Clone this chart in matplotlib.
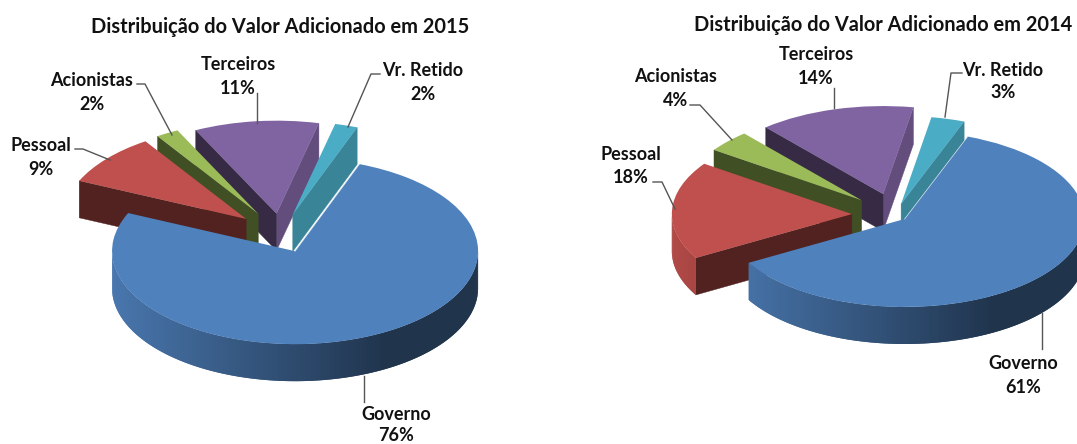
import numpy as np
import matplotlib
matplotlib.use("Agg")
import matplotlib.pyplot as plt
from matplotlib.colors import to_rgb
from matplotlib.transforms import Affine2D

W, H = 1077, 444
FONT = "Lato"

categories = ["Governo", "Pessoal", "Acionistas", "Terceiros", "Vr. Retido"]
values_2015 = [76, 9, 2, 11, 2]
values_2014 = [61, 18, 4, 14, 3]
title_2015 = "Distribuição do Valor Adicionado em 2015"
title_2014 = "Distribuição do Valor Adicionado em 2014"
colors = ["#4F81BD", "#C0504D", "#9BBB59", "#8064A2", "#4BACC6"]

fig = plt.figure(figsize=(W / 100, H / 100), dpi=100, facecolor="white")
px = Affine2D().scale(1 / W, -1 / H).translate(0, 1) + fig.transFigure


def shade(c, f):
    return tuple(np.array(to_rgb(c)) * f)


def wall_factor(angle_deg):
    """Brightness of the outer wall, from the angle around the pie."""
    return np.interp(np.cos(np.radians(angle_deg)), [-1, 0, 0.5, 1], [0.92, 0.58, 0.40, 0.40])


def draw_pie(values, span, centre, radii, depth, start, explode):
    x0, x1 = span
    cx, cy = centre
    rx, ry = radii
    ax = fig.add_axes([x0 / W, 0, (x1 - x0) / W, 1])
    d = depth / ry
    wedges, _ = ax.pie(values, colors=colors, startangle=start, counterclock=False,
                       explode=explode, radius=1, wedgeprops={"linewidth": 0})
    ax.set_aspect("auto")
    ax.set_xlim((x0 - cx) / rx, (x1 - cx) / rx)
    ax.set_ylim((cy - H) / ry, cy / ry)
    ax.set_axis_off()
    # back-to-front stacking of the slices
    layer = {3: 10, 4: 20, 2: 30, 1: 40, 0: 50}
    for i, w in enumerate(wedges):
        z = layer[i]
        w.set_zorder(z + 5)
        ox, oy = w.center
        a1, a2 = w.theta1, w.theta2
        col = colors[i]
        # radial walls
        for a, normal in ((a1, a1 - 90), (a2, a2 + 90)):
            sn, cn = np.sin(np.radians(normal)), np.cos(np.radians(normal))
            if sn < 0:
                f = 0.42 if (cn < 0 or sn < -0.6) else 0.77
                ex = ox + np.cos(np.radians(a))
                ey = oy + np.sin(np.radians(a))
                ax.fill([ox, ex, ex, ox], [oy, ey, ey - d, oy - d], color=shade(col, f),
                        lw=0.3, zorder=z + 1)
        # outer wall: overlapping strips so no seams show between them
        grid = np.clip(np.arange(np.floor(a1), a2 + 1.5, 1.5), a1, a2)
        strips = [(s, e) for s, e in zip(grid[:-1], grid[1:])
                  if e > s and np.sin(np.radians(0.5 * (s + e))) < 0]
        for k, (s, e) in enumerate(strips):
            m = 0.5 * (s + e)
            e2 = strips[k + 1][1] if k + 1 < len(strips) else e
            tt = np.radians(np.linspace(s, e2, 4))
            xs = ox + np.cos(tt)
            ys = oy + np.sin(tt)
            ax.fill(np.r_[xs, xs[::-1]], np.r_[ys, ys[::-1] - d],
                    color=shade(col, wall_factor(m)), lw=0, zorder=z + 2)
    # pale rim on the blue slice next to the teal wall
    b = wedges[0]
    ax.plot([b.center[0], b.center[0] + np.cos(np.radians(b.theta2))],
            [b.center[1], b.center[1] + np.sin(np.radians(b.theta2))],
            color="#DDE8F2", lw=0.5, zorder=56)
    return ax


draw_pie(values_2015, (0, 540), (281, 234), (183, 93), 37, 69.4,
         [0.20, 0.25, 0.25, 0.22, 0.22])
draw_pie(values_2014, (540, 1077), (895, 215), (180, 88), 37, 69.5,
         [0.07, 0.24, 0.25, 0.247, 0.13])


def label(x, y1, y2, name, val):
    fig.text(x, y1 + 1, name, transform=px, ha="center", va="center", family=FONT,
             fontweight="bold", fontsize=13, color="#111111")
    fig.text(x, y2 + 1, f"{val}%", transform=px, ha="center", va="center", family=FONT,
             fontweight="bold", fontsize=13, color="#111111")


def leader(xs, ys):
    fig.add_artist(plt.Line2D(xs, ys, transform=px, color="#555555", lw=1.0, zorder=100))


for x, title, y in ((280, title_2015, 27), (883.5, title_2014, 25)):
    fig.text(x, y, title, transform=px, ha="center", va="center", family=FONT,
             fontweight="bold", fontsize=14.4, color="#111111")

pos15 = [(396, 413, 434), (41, 144, 168), (92, 79, 103), (238, 63, 87), (423, 69, 93)]
pos14 = [(1023, 362, 386), (631, 153, 176), (676, 75, 99), (816, 54, 78), (1003, 69, 92)]
for i, name in enumerate(categories):
    label(*pos15[i], name, values_2015[i])
    label(*pos14[i], name, values_2014[i])

leader([137, 145, 172], [84, 84, 135])
leader([257, 257], [93, 123])
leader([380, 371, 348], [74, 74, 127])
leader([75, 83, 110], [149, 149, 160])
leader([364, 364], [376, 402])
leader([690, 700, 732], [105, 105, 140])
leader([834, 834], [88, 108])
leader([962, 951, 945], [73, 73, 117])
leader([653, 662, 675], [182, 182, 209])
leader([1042, 1042], [313, 349])

fig.savefig("out.png", dpi=100, facecolor="white")
